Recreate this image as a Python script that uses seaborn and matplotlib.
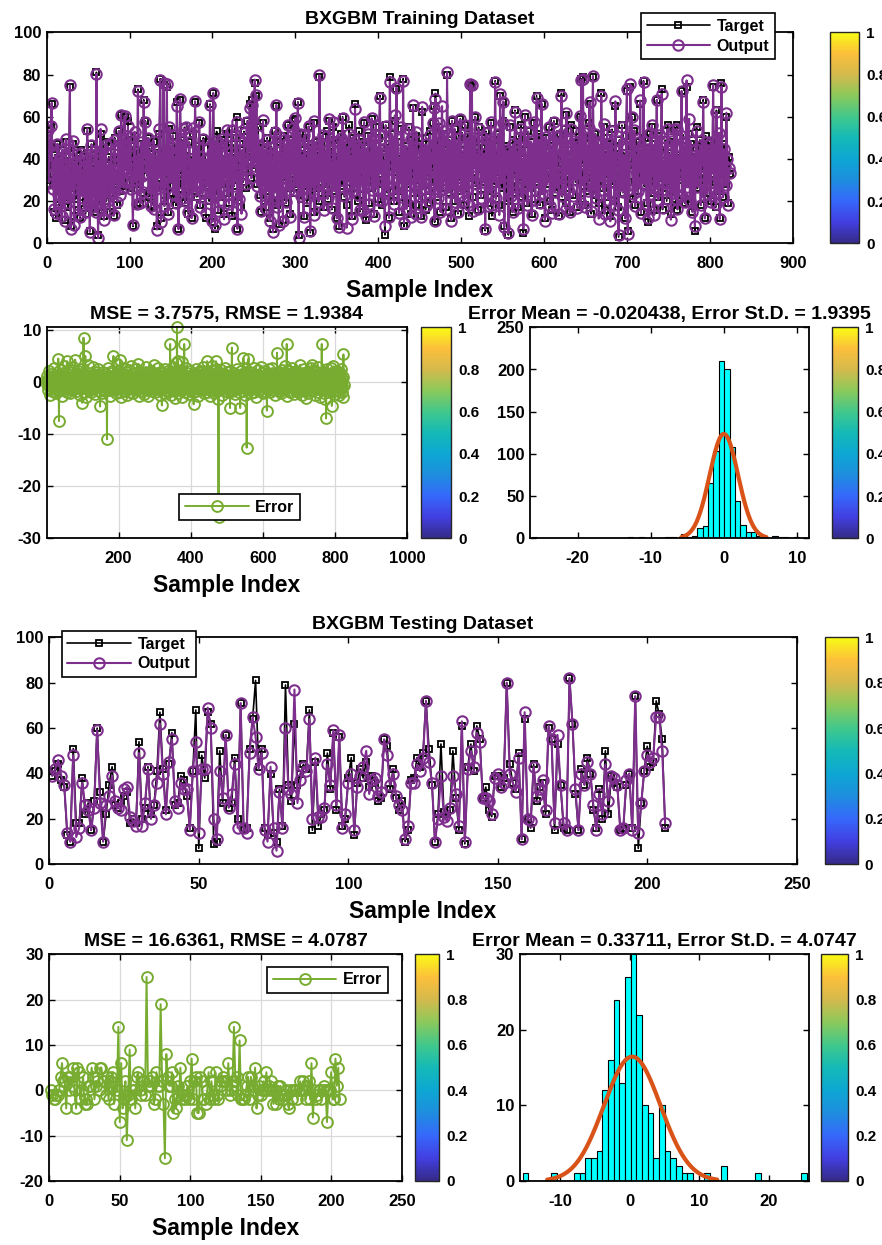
import numpy as np
import pandas as pd
import matplotlib
matplotlib.use("Agg")
import matplotlib.pyplot as plt
import seaborn as sns
from matplotlib.colors import LinearSegmentedColormap, Normalize
from matplotlib.cm import ScalarMappable

# ---------------- data ----------------
train_target = [
    54, 37, 30, 45, 56, 66, 28, 33, 15, 42, 12, 38, 47, 25, 18, 40, 31, 14, 44, 27,
    36, 11, 48, 22, 39, 17, 45, 74, 8, 34, 26, 47, 13, 38, 21, 43, 30, 16, 37, 12,
    44, 25, 33, 19, 41, 28, 14, 36, 53, 22, 40, 6, 31, 47, 18, 35, 26, 42, 15, 81,
    29, 4, 38, 21, 52, 17, 34, 44, 13, 30, 48, 20, 37, 26, 41, 15, 33, 46, 24, 39,
    13, 50, 28, 35, 18, 43, 53, 25, 40, 61, 31, 47, 27, 60, 36, 45, 29, 58, 38, 33,
    49, 26, 42, 8, 36, 51, 30, 44, 18, 73, 28, 40, 19, 47, 35, 24, 68, 39, 58, 43,
    32, 50, 22, 45, 36, 18, 41, 29, 48, 17, 38, 26, 8, 43, 31, 52, 78, 12, 40, 27,
    75, 20, 44, 33, 74, 15, 39, 54, 24, 46, 30, 51, 21, 42, 36, 18, 67, 28, 7, 45,
    68, 33, 49, 23, 40, 55, 19, 44, 29, 37, 14, 48, 25, 41, 12, 34, 52, 27, 67, 39,
    22, 46, 31, 57, 18, 43, 35, 24, 50, 30, 41, 12, 38, 27, 48, 20, 66, 34, 10, 45,
    71, 25, 7, 39, 53, 30, 16, 44, 36, 22, 49, 28, 40, 14, 47, 33, 52, 24, 38, 19,
    45, 31, 54, 13, 42, 27, 36, 50, 60, 7, 33, 22, 47, 38, 17, 44, 29, 53, 35, 41,
    26, 58, 39, 48, 66, 52, 31, 68, 45, 37, 76, 41, 70, 28, 55, 35, 23, 47, 15, 39,
    57, 29, 44, 17, 36, 50, 25, 41, 12, 33, 46, 20, 7, 38, 53, 27, 65, 18, 42, 9,
    35, 48, 22, 40, 11, 51, 30, 45, 19, 37, 56, 26, 43, 14, 49, 33, 58, 24, 41, 59,
    28, 46, 67, 4, 38, 52, 21, 44, 35, 13, 50, 27, 42, 19, 36, 55, 31, 5, 47, 23,
    40, 57, 15, 34, 48, 26, 43, 20, 79, 32, 46, 24, 51, 17, 39, 44, 28, 53, 21, 37,
    58, 30, 45, 16, 41, 55, 25, 49, 33, 12, 38, 47, 8, 36, 52, 27, 60, 40, 22, 48,
    35, 18, 44, 31, 56, 26, 42, 13, 50, 37, 24, 66, 29, 46, 20, 39, 53, 15, 43, 32,
    48, 23, 57, 36, 11, 45, 30, 51, 19, 40, 34, 59, 26, 47, 14, 38, 55, 28, 43, 21,
    50, 70, 33, 45, 18, 41, 29, 4, 56, 36, 24, 47, 12, 79, 38, 52, 27, 44, 20, 58,
    34, 73, 25, 48, 15, 40, 31, 54, 22, 78, 8, 37, 46, 19, 42, 28, 55, 33, 14, 49,
    36, 64, 24, 45, 18, 51, 30, 39, 21, 47, 35, 13, 62, 27, 43, 38, 16, 50, 32, 44,
    25, 53, 19, 41, 36, 57, 65, 10, 71, 29, 46, 22, 55, 34, 15, 48, 39, 26, 52, 31,
    44, 17, 80, 37, 24, 49, 33, 12, 58, 40, 28, 54, 20, 45, 36, 14, 51, 30, 59, 25,
    42, 34, 18, 47, 56, 26, 39, 52, 13, 44, 75, 31, 74, 22, 48, 37, 60, 27, 43, 16,
    55, 35, 41, 23, 50, 29, 38, 45, 6, 53, 33, 19, 47, 40, 25, 57, 13, 36, 49, 28,
    77, 21, 43, 34, 52, 18, 70, 39, 26, 58, 67, 8, 31, 46, 20, 44, 4, 37, 55, 27,
    42, 15, 49, 33, 63, 24, 45, 36, 17, 51, 30, 56, 22, 40, 5, 47, 60, 28, 38, 19,
    53, 35, 26, 48, 14, 42, 31, 57, 21, 44, 70, 29, 39, 52, 18, 36, 66, 25, 45, 33,
    12, 50, 28, 41, 37, 55, 20, 46, 32, 16, 43, 58, 24, 38, 49, 27, 35, 13, 52, 40,
    71, 22, 44, 30, 54, 19, 61, 36, 47, 26, 15, 41, 56, 33, 23, 48, 39, 29, 53, 17,
    45, 34, 60, 21, 78, 38, 79, 27, 18, 50, 31, 43, 25, 57, 66, 36, 14, 46, 79, 28,
    40, 52, 23, 35, 48, 19, 44, 30, 71, 37, 26, 55, 16, 42, 33, 50, 22, 39, 47, 13,
    36, 54, 28, 41, 20, 65, 45, 31, 17, 3, 49, 27, 38, 56, 24, 43, 34, 12, 51, 72,
    6, 40, 29, 74, 46, 60, 21, 37, 53, 18, 44, 32, 25, 48, 36, 66, 15, 41, 30, 77,
    27, 50, 35, 19, 45, 10, 38, 52, 24, 55, 33, 42, 16, 47, 29, 68, 37, 22, 51, 31,
    44, 73, 16, 39, 26, 49, 34, 20, 56, 28, 43, 36, 14, 48, 32, 25, 53, 40, 18, 56,
    16, 42, 30, 50, 37, 72, 23, 46, 34, 19, 44, 74, 28, 39, 52, 21, 47, 33, 15, 41,
    36, 6, 45, 55, 26, 40, 31, 49, 18, 43, 35, 68, 27, 12, 51, 38, 24, 46, 30, 42,
    20, 48, 35, 74, 29, 44, 17, 63, 39, 25, 50, 12, 33, 76, 41, 22, 47, 36, 28, 60,
    37, 19, 41, 33,
]

train_error = [
    0.4, -0.3, 1.2, -1.5, 0.2, -0.6, 2.1, 0.5, -1.1, 0.3, -2.4, 0.8, -0.2, 1.6, -0.7, 0.1, -1.8, 1.0, -0.4, 2.6,
    -0.5, 0.6, -1.3, 0.2, 1.4, -2.1, 0.3, -0.8, 1.1, -0.1, 0.7, -1.6, 4.5, -0.3, -7.5, 0.9, -1.0, 2.3, 0.2, -0.6,
    1.3, -0.2, 0.5, -2.7, 0.1, 1.8, -0.9, 0.4, -1.4, 3.1, -0.3, 0.6, -1.2, 0.2, 1.0, -0.5, 4.0, -1.9, 0.3, 0.7,
    -0.4, 1.5, -1.1, 0.2, -2.2, 0.8, 0.1, -0.7, 2.0, -0.3, 1.2, -1.5, 0.5, -0.1, 2.8, -0.9, 0.3, -1.3, 0.6, 4.3,
    -0.2, 1.1, -0.6, 0.4, -1.7, 0.9, -0.3, 2.2, -1.0, 0.2, 1.6, -2.5, 0.7, -0.4, 1.3, -0.8, 0.1, 2.5, -4.0, 0.5,
    -1.2, 0.3, 8.5, -0.6, 1.4, -1.9, 0.2, 5.0, -0.5, 1.0, -2.8, 0.6, 0.1, -1.1, 3.3, -0.3, 0.8, -1.6, 0.4, 1.7,
    -0.7, 0.2, -2.0, 1.2, -0.1, 0.5, -1.4, 2.9, -0.4, 0.9, -1.2, 0.3, 1.5, -0.8, 0.1, -2.3, 0.7, 1.9, -0.5, 0.4,
    -1.0, 2.4, -0.2, 0.6, -1.7, 1.1, 0.2, -0.9, -4.7, 0.5, 1.3, -0.3, -2.1, 0.8, 0.1, -1.3, 2.0, -0.6, 0.3, 1.0,
    -0.4, -1.8, 0.6, 1.5, -0.2, 0.9, -1.1, -11.0, 0.4, 2.7, -0.7, 0.2, -1.5, 1.2, -0.1, 0.5, -2.6, 1.8, -0.3, 0.7,
    -1.0, 0.3, 2.1, -0.5, 1.0, 5.0, -1.6, 0.2, 0.8, -0.9, 1.4, -2.2, 0.5, -0.2, 3.4, -1.3, 0.6, 0.1, -0.8, 2.2,
    -0.3, 1.1, -1.9, 0.4, 4.3, -0.6, 0.9, -2.9, 0.2, 1.6, -0.4, 0.7, -1.2, 2.6, -0.1, 0.5, -1.7, 1.3, -0.5, 0.3,
    1.9, -0.8, 0.2, -2.4, 1.0, -0.3, 0.6, -1.4, 2.3, 0.1, -0.7, 1.2, -1.9, 0.4, 3.0, -0.2, -1.1, 0.8, -0.4, 1.5,
    -2.1, 0.3, 0.9, -0.6, 1.7, -1.3, 0.2, 2.4, -0.9, 0.5, -1.6, 1.1, -0.2, 0.7, 3.5, -2.7, 0.4, 1.3, -0.5, 0.1,
    -1.2, 2.0, -0.3, 0.6, -1.8, 0.9, 0.2, -0.7, 1.4, -2.3, 0.5, -0.1, 1.8, -1.0, 0.3, 2.9, -0.6, 1.0, -1.5, 0.2,
    0.7, -2.6, 1.2, -0.4, 0.5, 1.9, -1.1, 0.3, -0.8, 2.2, -0.2, 0.8, -1.7, 1.3, 0.1, -0.5, 3.2, -1.3, 0.6, -0.3,
    1.0, -2.0, 0.4, 1.6, -0.9, 0.2, -1.4, 2.7, -0.1, 0.7, -1.2, 0.3, 1.4, -2.5, 0.6, -0.4, 2.0, -0.7, 0.9, -4.5,
    0.5, -1.0, 1.7, -0.3, 0.2, -2.2, 1.1, 0.4, -0.6, 2.5, -1.5, 0.8, -0.2, 1.3, -0.8, 0.1, -1.9, 2.1, -0.4, 0.6,
    -1.1, 1.6, 7.3, -0.5, 0.9, -2.4, 0.3, 1.2, -0.7, 0.2, 2.8, -1.3, 0.5, -0.1, 1.9, -3.0, 0.7, 3.6, -0.6, 1.0,
    -0.9, 10.6, -1.6, 0.4, 4.0, -2.1, 0.8, 1.5, -0.3, 0.6, -1.2, 2.3, -0.4, 0.2, -2.8, 1.1, 3.9, -0.8, 0.5, -1.4,
    1.3, 7.3, -0.5, 0.9, -1.9, 0.1, 2.6, -0.7, 0.4, -1.1, 1.8, -0.2, 0.6, -2.3, 1.2, 0.3, -0.9, 2.1, -0.4, 0.7,
    -1.5, 1.0, -0.1, 0.5, -2.0, 1.6, -0.6, -4.3, 0.3, 1.4, -1.0, 0.8, -0.3, 2.4, -1.7, 0.2, 0.9, -0.5, 1.5, -2.6,
    0.4, -0.8, 1.9, -1.3, 0.6, -0.2, 2.2, -0.9, 0.1, 1.1, -1.6, 0.5, -0.4, 2.8, -1.1, 0.3, 0.8, -2.2, 1.3, -0.5,
    0.2, -1.4, 1.7, -0.6, 4.0, -1.9, 0.7, 0.3, -1.0, 2.0, -0.3, 0.6, -2.7, 1.2, -0.1, 0.9, -1.5, 3.1, -0.7, 0.4,
    -1.2, 1.5, -0.4, 0.8, -2.1, 0.2, 1.0, -0.8, 2.5, 4.0, -0.6, 0.3, -1.8, 1.4, 0.1, -3.3, -26.0, 0.5, -1.3, 1.8,
    -0.2, 0.7, -1.1, 2.3, -0.5, 0.4, -2.4, 1.2, 0.1, -0.9, 1.6, -0.3, 0.6, -1.7, 2.7, -0.6, 0.9, -1.2, 0.3, 1.9,
    -0.7, 0.5, -2.0, 1.1, -0.2, 0.8, -1.5, 2.1, -5.0, 0.3, -0.4, 1.3, -0.9, 6.6, -1.8, 0.6, 0.2, -1.1, 1.7, -0.3,
    0.9, -2.3, 0.4, 1.4, -0.6, 0.1, -1.4, 2.5, -0.8, 0.7, -0.1, 1.2, -2.0, 0.5, 1.0, -0.4, -5.0, 0.3, 2.2, -1.0,
    0.6, -0.3, 1.5, -1.7, 0.2, 4.6, -0.9, 0.8, -2.5, 1.1, -0.2, 0.4, -1.3, 1.9, -12.6, 0.5, -0.7, 1.3, -1.1, 4.5,
    -0.5, 0.3, 2.0, -1.6, 0.7, -0.2, 1.2, -2.2, 0.4, 0.9, -0.8, 1.6, -0.4, 0.1, -1.9, 2.6, -0.6, 0.5, -1.2, 1.0,
    0.2, -2.8, 1.4, -0.3, 0.8, -1.0, 2.3, -0.7, 0.6, -1.5, 1.1, 0.1, -0.5, 2.9, -1.3, 0.4, -0.2, 1.7, -2.1, 0.5,
    1.2, -0.6, 0.3, -1.8, 0.9, -0.1, 2.1, -1.1, 0.4, 1.5, -5.5, 0.7, -0.3, 1.0, -1.4, 0.2, 2.4, -0.8, 0.6, -2.0,
    1.3, -0.4, 0.8, -1.2, 0.1, 2.7, -0.9, 0.5, -1.6, 1.1, 0.3, -0.2, 1.8, -2.4, 0.6, -0.7, 1.4, -1.0, 5.6, 0.2,
    -1.3, 0.9, -0.5, 2.0, 0.4, -1.7, 1.2, -0.1, 0.7, -2.2, 1.6, -0.6, 0.3, 2.3, -0.9, 0.5, -1.4, 1.0, -0.3, 3.0,
    -1.1, 0.4, 1.7, -0.8, 0.2, 7.3, -2.6, 0.6, 1.1, -0.4, 0.9, -1.5, 2.1, -0.2, 0.5, -1.9, 1.3, 0.1, -0.7, 2.6,
    -0.5, 1.0, -1.2, 0.3, 1.9, -2.3, 0.7, -0.1, 1.4, -0.9, 0.4, 2.2, -1.6, 0.8, -0.3, 1.2, -2.0, 0.2, 0.6, -1.0,
    1.6, -0.4, 3.3, -1.3, 0.9, 0.1, -2.5, 1.1, -0.6, 0.5, 1.8, -1.1, 0.3, -0.2, 2.4, -1.7, 0.7, -3.1, 1.3, 0.4,
    -0.8, 2.0, -1.4, 0.6, 0.2, -2.1, 1.5, -0.3, 0.8, -1.0, 1.1, -0.5, 2.6, -1.8, 3.3, 0.1, -0.9, 1.4, -0.2, 0.7,
    -1.6, 2.2, -0.6, 0.4, -2.4, 1.0, 0.3, -1.2, 1.9, -0.4, 0.6, -1.9, 2.8, -0.7, 0.2, 1.3, -1.1, 0.5, -2.9, 1.7,
    -0.3, 0.8, 7.3, -1.5, 1.2, -0.2, 0.6, -2.2, 2.0, -0.8, 0.4, -3.2, 1.5, -0.5, -7.0, 0.9, -1.3, 2.4, 0.1, -0.6,
    1.1, -2.0, 0.5, 1.6, -0.9, 0.3, -1.4, 2.7, -0.2, 0.7, -4.6, 1.2, -0.6, 0.2, 3.0, -1.7, 0.8, -0.4, 1.5, -2.3,
    0.6, -0.1, 1.9, -1.0, 0.4, 2.2, -1.6, 0.9, -0.3, 1.3, -2.4, 0.5, -0.7, 1.7, -1.2, 0.2, 2.5, -0.8, 0.6, -1.9,
    -2.8, 1.0, 5.3, -0.5,
]

test_target = [
    39, 41, 44, 37, 34, 13, 10, 51, 18, 18,
    38, 22, 27, 15, 28, 60, 32, 10, 22, 35,
    43, 26, 25, 27, 30, 32, 18, 20, 18, 54,
    20, 25, 43, 22, 26, 41, 67, 42, 24, 44,
    58, 26, 27, 39, 37, 30, 16, 41, 68, 7,
    48, 38, 67, 62, 9, 10, 50, 27, 57, 25,
    27, 47, 20, 71, 15, 16, 51, 64, 81, 43,
    51, 16, 13, 40, 14, 10, 33, 17, 79, 35,
    28, 62, 35, 40, 44, 42, 68, 15, 45, 17,
    22, 24, 49, 33, 58, 24, 56, 17, 20, 38,
    47, 13, 36, 42, 38, 45, 34, 39, 36, 28,
    29, 55, 52, 33, 42, 29, 24, 28, 10, 15,
    37, 38, 47, 43, 49, 72, 51, 35, 10, 22,
    53, 23, 22, 24, 50, 29, 15, 61, 9, 43,
    53, 41, 61, 55, 29, 34, 24, 21, 39, 39,
    34, 38, 80, 44, 36, 33, 49, 11, 64, 20,
    16, 44, 28, 34, 36, 22, 60, 55, 15, 53,
    35, 16, 15, 82, 62, 31, 15, 42, 35, 47,
    40, 24, 16, 33, 20, 50, 22, 39, 36, 34,
    15, 16, 35, 40, 16, 74, 7, 27, 41, 52,
    43, 45, 72, 66, 55, 16,
]

test_output = [
    39, 42, 46, 39, 35, 14, 10, 48, 12, 16,
    36, 26, 24, 15, 25, 59, 27, 10, 26, 30,
    39, 28, 25, 24, 33, 34, 21, 19, 17, 49,
    17, 27, 42, 20, 26, 36, 62, 40, 22, 45,
    55, 28, 25, 36, 33, 33, 15, 41, 54, 14,
    42, 42, 69, 60, 20, 11, 41, 29, 57, 25,
    31, 44, 16, 71, 16, 14, 49, 65, 56, 42,
    49, 15, 10, 43, 16, 6, 32, 16, 60, 33,
    31, 77, 27, 37, 43, 41, 64, 20, 47, 21,
    21, 25, 44, 35, 59, 26, 57, 16, 22, 36,
    40, 15, 34, 39, 43, 50, 31, 37, 38, 30,
    32, 55, 48, 35, 40, 30, 26, 24, 11, 17,
    36, 36, 44, 41, 47, 72, 45, 36, 10, 20,
    39, 21, 19, 25, 39, 31, 17, 63, 10, 42,
    50, 43, 58, 54, 29, 29, 28, 22, 38, 40,
    34, 36, 80, 40, 36, 32, 47, 11, 67, 20,
    19, 43, 30, 33, 37, 24, 61, 55, 18, 57,
    35, 18, 15, 82, 62, 33, 15, 40, 35, 45,
    40, 26, 15, 31, 22, 44, 28, 39, 38, 35,
    15, 16, 37, 40, 15, 74, 14, 27, 41, 48,
    45, 47, 65, 65, 50, 18,
]

# histogram bin counts (50 bins each)
train_hist_counts = [1, 0, 0, 0, 0, 0, 0, 0, 0, 0,
                     0, 0, 0, 0, 0, 0, 0, 0, 1, 0,
                     1, 0, 0, 0, 0, 1, 1, 0, 5, 2,
                     3, 12, 14, 66, 104, 210, 200, 108, 44, 16,
                     8, 7, 3, 1, 0, 3, 1, 1, 0, 1]
test_hist_counts = [1, 0, 0, 0, 0, 1, 0, 0, 0, 1,
                    1, 3, 3, 4, 12, 16, 24, 13, 27, 30,
                    22, 10, 9, 3, 10, 4, 3, 2, 1, 1,
                    0, 0, 1, 0, 0, 2, 0, 0, 0, 0,
                    0, 1, 0, 0, 0, 0, 0, 0, 0, 1]

train_mean, train_std = -0.020438, 1.9395
test_mean, test_std = 0.33711, 4.0747

title_train = "BXGBM Training Dataset"
title_test = "BXGBM Testing Dataset"
title_train_err = "MSE = 3.7575, RMSE = 1.9384"
title_test_err = "MSE = 16.6361, RMSE = 4.0787"
title_train_hist = "Error Mean = -0.020438, Error St.D. = 1.9395"
title_test_hist = "Error Mean = 0.33711, Error St.D. = 4.0747"
cbar_ticks = [0, 0.2, 0.4, 0.6, 0.8, 1]
cbar_labels = ["0", "0.2", "0.4", "0.6", "0.8", "1"]

# ---------------- style ----------------
sns.set_style("ticks")
plt.rcParams['font.family'] = ['Liberation Sans', 'DejaVu Sans']
plt.rcParams['font.weight'] = 'bold'
plt.rcParams['axes.labelweight'] = 'bold'
plt.rcParams['axes.titleweight'] = 'bold'
plt.rcParams['axes.unicode_minus'] = False
plt.rcParams['text.color'] = 'black'
plt.rcParams['axes.labelcolor'] = 'black'
plt.rcParams['xtick.color'] = 'black'
plt.rcParams['ytick.color'] = 'black'

PURPLE = (0.494, 0.184, 0.556)
GREEN = (0.466, 0.674, 0.188)
ORANGE = (0.85, 0.325, 0.098)
CYAN = (0.0, 1.0, 1.0)
parula = LinearSegmentedColormap.from_list("parula", [
    (0.208, 0.166, 0.529), (0.259, 0.246, 0.883), (0.212, 0.408, 0.984),
    (0.118, 0.553, 0.871), (0.051, 0.655, 0.828), (0.078, 0.728, 0.718),
    (0.255, 0.784, 0.549), (0.545, 0.788, 0.357), (0.829, 0.729, 0.298),
    (0.988, 0.749, 0.231), (0.976, 0.984, 0.080)])

W, H = 882, 1245
fig = plt.figure(figsize=(W / 100, H / 100), dpi=100)


def rect(l, r, t, b):
    return [l / W, 1 - b / H, (r - l) / W, (b - t) / H]


def style_axes(ax, grid=False):
    ax.tick_params(direction='in', top=True, right=True, length=4, width=1,
                   labelsize=12)
    ax.tick_params(axis='x', pad=9)
    ax.tick_params(axis='y', pad=4)
    for s in ax.spines.values():
        s.set_visible(True)
        s.set_linewidth(1.3)
        s.set_color('black')
    if grid:
        ax.grid(True, color='0.85', linewidth=0.9)
        ax.set_axisbelow(True)
    for lab in ax.get_xticklabels() + ax.get_yticklabels():
        lab.set_fontweight('bold')


def add_cbar(l, r, t, b):
    cax = fig.add_axes(rect(l, r, t, b))
    cb = fig.colorbar(ScalarMappable(norm=Normalize(0, 1), cmap=parula),
                      cax=cax, ticks=cbar_ticks)
    cb.ax.set_yticklabels(cbar_labels, fontweight='bold')
    cb.ax.tick_params(direction='in', length=4, labelsize=11, pad=5)
    cb.outline.set_linewidth(1.0)
    return cb


def series_plot(ax, target, output):
    x = np.arange(1, len(target) + 1)
    sns.lineplot(x=x, y=target, ax=ax, color='black', linewidth=1.2,
                 marker='s', markersize=5, markerfacecolor='none',
                 markeredgecolor='black', markeredgewidth=1.3,
                 estimator=None, errorbar=None, sort=False, label='Target')
    sns.lineplot(x=x, y=output, ax=ax, color=PURPLE, linewidth=1.5,
                 marker='o', markersize=7.5, markerfacecolor='none',
                 markeredgecolor=PURPLE, markeredgewidth=1.5,
                 estimator=None, errorbar=None, sort=False, label='Output')


def error_plot(ax, err):
    x = np.arange(1, len(err) + 1)
    sns.lineplot(x=x, y=err, ax=ax, color=GREEN, linewidth=1.4,
                 marker='o', markersize=7.8, markerfacecolor='none',
                 markeredgecolor=GREEN, markeredgewidth=1.4,
                 estimator=None, errorbar=None, sort=False, label='Error')
    for ln in ax.get_lines():
        ln.set_clip_on(False)


def hist_plot(ax, counts, start, width, mean, std, n):
    nb = len(counts)
    centers = start + width * (np.arange(nb) + 0.5)
    df = pd.DataFrame({"center": centers, "count": np.asarray(counts, dtype=float)})
    sns.histplot(data=df, x="center", weights="count", binwidth=width,
                 binrange=(start, start + width * nb), ax=ax, color=CYAN,
                 edgecolor='black', linewidth=0.8, alpha=1.0)
    xs = np.linspace(mean - 3 * std, mean + 3 * std, 300)
    ys = n * width * np.exp(-(xs - mean) ** 2 / (2 * std ** 2)) / (std * np.sqrt(2 * np.pi))
    sns.lineplot(x=xs, y=ys, ax=ax, color=ORANGE, linewidth=3,
                 estimator=None, errorbar=None, sort=False)
    ax.set_ylabel('')
    ax.set_xlabel('')


def legend(ax, loc, anchor):
    leg = ax.legend(loc=loc, bbox_to_anchor=anchor, bbox_transform=fig.transFigure,
                    frameon=True, fancybox=False, edgecolor='black', framealpha=1,
                    prop={'weight': 'bold', 'size': 11.5}, handlelength=4,
                    borderpad=0.35, labelspacing=0.3, handletextpad=0.4,
                    borderaxespad=0)
    leg.get_frame().set_linewidth(1.2)


train_t = np.array(train_target, dtype=float)
train_e = np.array(train_error, dtype=float)
train_o = train_t - train_e
test_t = np.array(test_target, dtype=float)
test_o = np.array(test_output, dtype=float)
test_e = test_t - test_o

XL = dict(fontsize=16.5, fontweight='bold', labelpad=6)

# ---- Row 1: training series ----
ax1 = fig.add_axes(rect(46.7, 792.7, 32.3, 243.3))
series_plot(ax1, train_t, train_o)
ax1.set_xlim(0, 900)
ax1.set_ylim(0, 100)
ax1.set_xticks(range(0, 901, 100))
ax1.set_yticks(range(0, 101, 20))
ax1.set_title(title_train, fontsize=14, fontweight='bold', pad=6)
ax1.set_xlabel("Sample Index", **XL)
style_axes(ax1)
legend(ax1, 'upper right', (775 / W, 1 - 13.3 / H))
add_cbar(830, 859.3, 32.3, 243.3)

# ---- Row 2: training error + histogram ----
ax2 = fig.add_axes(rect(46.7, 407.3, 327.3, 538.3))
error_plot(ax2, train_e)
ax2.set_xlim(1, 1000)
ax2.set_ylim(-30, 10.5)
ax2.set_xticks([200, 400, 600, 800, 1000])
ax2.set_yticks([-30, -20, -10, 0, 10])
ax2.set_title(title_train_err, fontsize=14, fontweight='bold', pad=6)
ax2.set_xlabel("Sample Index", **XL)
style_axes(ax2, grid=True)
legend(ax2, 'upper right', (300 / W, 1 - 494.3 / H))
add_cbar(420.7, 451, 327.3, 538.3)

ax3 = fig.add_axes(rect(530, 809.3, 327.3, 538.3))
hist_plot(ax3, train_hist_counts, -26.26, 0.73, train_mean, train_std, len(train_target))
ax3.set_xlim(-26.5, 11.65)
ax3.set_ylim(0, 250)
ax3.set_xticks([-20, -10, 0, 10])
ax3.set_yticks(range(0, 251, 50))
ax3.set_title(title_train_hist, fontsize=14, fontweight='bold', pad=6)
style_axes(ax3)
add_cbar(831.7, 858.3, 327.3, 538.3)

# ---- Row 3: testing series ----
ax4 = fig.add_axes(rect(49.3, 796.7, 637.3, 864.3))
series_plot(ax4, test_t, test_o)
ax4.set_xlim(0, 250)
ax4.set_ylim(0, 100)
ax4.set_xticks(range(0, 251, 50))
ax4.set_yticks(range(0, 101, 20))
ax4.set_title(title_test, fontsize=14, fontweight='bold', pad=6)
ax4.set_xlabel("Sample Index", **XL)
style_axes(ax4)
legend(ax4, 'upper left', (61.7 / W, 1 - 631 / H))
add_cbar(825, 857.7, 637.3, 864.3)

# ---- Row 4: testing error + histogram ----
ax5 = fig.add_axes(rect(49.3, 401.7, 954.3, 1181))
error_plot(ax5, test_e)
ax5.set_xlim(0, 250)
ax5.set_ylim(-20, 30)
ax5.set_xticks(range(0, 251, 50))
ax5.set_yticks(range(-20, 31, 10))
ax5.set_title(title_test_err, fontsize=14, fontweight='bold', pad=6)
ax5.set_xlabel("Sample Index", **XL)
style_axes(ax5, grid=True)
legend(ax5, 'upper right', (387.7 / W, 1 - 966.7 / H))
add_cbar(415, 439.3, 954.3, 1181)

ax6 = fig.add_axes(rect(520, 809.3, 954.3, 1181))
hist_plot(ax6, test_hist_counts, -15.4, 0.816, test_mean, test_std, len(test_target))
ax6.set_xlim(-15.8, 25.8)
ax6.set_ylim(0, 30)
ax6.set_xticks([-10, 0, 10, 20])
ax6.set_yticks([0, 10, 20, 30])
ax6.set_title(title_test_hist, fontsize=14, fontweight='bold', pad=6)
style_axes(ax6)
add_cbar(820.7, 848.3, 954.3, 1181)

fig.savefig("out.png", dpi=100)
